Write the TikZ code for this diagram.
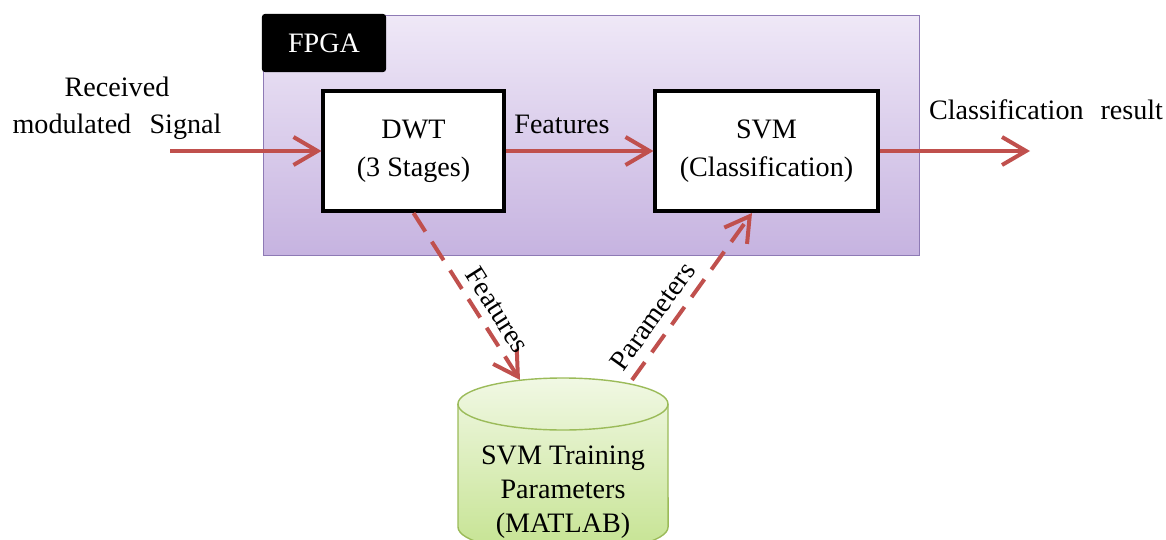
\documentclass[tikz,border=0pt]{standalone}
\usepackage{fontspec}
\setmainfont{Liberation Serif}
\usetikzlibrary{arrows.meta}
\definecolor{arrowred}{HTML}{C0504D}
\definecolor{fpgatop}{HTML}{EFE8F7}
\definecolor{fpgabot}{HTML}{C6B3E0}
\definecolor{fpgaline}{HTML}{8E7AB5}
\definecolor{dbtop}{HTML}{F1F8E4}
\definecolor{dbbot}{HTML}{C5E391}
\definecolor{dbline}{HTML}{9BBB59}

\begin{document}
\begin{tikzpicture}[x=0.025cm, y=-0.025cm, font=\fontsize{20}{26}\selectfont]
    \tikzstyle{fpga box}=[draw=fpgaline, line width=1.2pt, top color=fpgatop, bottom color=fpgabot, minimum width=16.4cm, minimum height=6cm, inner sep=0pt]
    \tikzstyle{tag}=[fill=black, text=white, rounded corners=2pt, minimum width=3.1cm, minimum height=1.45cm]
    \tikzstyle{block}=[draw=black, line width=0.1cm, fill=white, minimum width=4.5cm, minimum height=3cm, align=center, font=\fontsize{20}{27}\selectfont]
    \tikzstyle{flow}=[draw=arrowred, line width=0.1cm, -{Straight Barb[length=0.6cm, width=0.7cm]}]
    \tikzstyle{dashed flow}=[flow, dash pattern=on 0.55cm off 0.3cm]
    \tikzset{%
    database/.style={
      draw=dbline,
      line width=1pt,
      top color=dbtop,
      bottom color=dbbot}
    }

    \useasboundingbox (0,0) rectangle (1166,540);

    % FPGA frame and its tag
    \node[fpga box] (fpga) at (591.5,135.5) {};
    \node[tag] (fpga-tag) at (324,43) {FPGA};

    % blocks inside the FPGA
    \node[block] (dwt) at (413.5,151) {DWT\\(3 Stages)};
    \node[block, minimum width=5.55cm] (svm) at (766.5,151) {SVM\\(Classification)};

    % training database
    \path[database] (458,404) -- (458,527)
        arc[start angle=180, end angle=360, x radius=2.625cm, y radius=0.65cm]
        -- (668,404)
        arc[start angle=0, end angle=180, x radius=2.625cm, y radius=0.65cm] -- cycle;
    \draw[dbline, line width=1pt] (668,404)
        arc[start angle=0, end angle=-180, x radius=2.625cm, y radius=0.65cm];
    \node[align=center, font=\fontsize{20}{24}\selectfont] (db-text) at (563,492) {SVM Training\\Parameters\\(MATLAB)};

    \coordinate (in) at (170,151);
    \coordinate (out) at (1030,151);
    \coordinate (feat-end) at (520,380);
    \coordinate (par-start) at (632,380);
    \coordinate (par-end) at (752,213);

    % Draw the main signal path
    \draw[flow] (in) -- (dwt);
    \draw[flow] (dwt) -- (svm);
    \draw[flow] (svm) -- (out);

    \node[align=center] (in-label) at (117,108) {Received\\modulated\hspace{0.4em} Signal};
    \node (feat-label) at (562,124) {Features};
    \node (out-label) at (1046,110) {Classification\hspace{0.35em} result};

    % Draw the offline training loop
    \draw[dashed flow] (dwt.south) -- (feat-end)
    node[pos=0.64, sloped, above=2pt]{Features};
    \draw[dashed flow] (par-start) -- (par-end)
    node[pos=0.31, sloped, above=3pt]{Parameters};

\end{tikzpicture}
\end{document}
